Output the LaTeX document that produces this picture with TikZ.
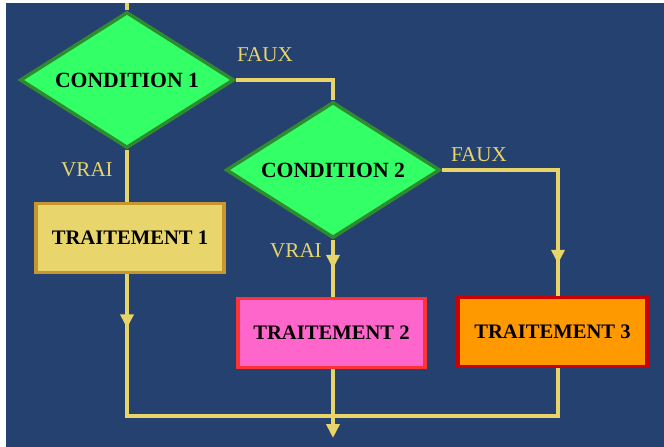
\documentclass[tikz,border=0pt]{standalone}
\usepackage{fontspec}
\setmainfont{Liberation Serif}
\usetikzlibrary{shapes.geometric,arrows.meta,decorations.markings}
\definecolor{flownavy}{RGB}{37,65,112}
\definecolor{flowline}{RGB}{232,213,106}
\definecolor{condfill}{RGB}{51,255,102}
\definecolor{conddraw}{RGB}{46,140,46}
\definecolor{traitgold}{RGB}{232,214,108}
\definecolor{traitgolddraw}{RGB}{200,150,46}
\definecolor{traitpink}{RGB}{255,102,204}
\definecolor{traitpinkdraw}{RGB}{255,51,51}
\definecolor{traitorange}{RGB}{255,153,0}
\definecolor{traitorangedraw}{RGB}{204,0,0}

\begin{document}
\begin{tikzpicture}[x=0.03cm, y=-0.03cm,
  every node/.style={font=\fontsize{18}{21}\selectfont},
  cond/.style={diamond, aspect=1.57, minimum width=6.42cm, minimum height=4.08cm,
    inner sep=0pt, fill=condfill, draw=conddraw, line width=3pt,
    font=\fontsize{18.5}{21}\selectfont\bfseries},
  traitbox/.style={rectangle, minimum width=5.64cm, minimum height=2.07cm,
    inner sep=0pt, line width=3pt, font=\fontsize{17.6}{21}\selectfont\bfseries},
  flow/.style={draw=flowline, color=flowline, line width=3pt},
  midarrow/.style={postaction={decorate}, decoration={markings,
    mark=at position #1 with {\arrow{Triangle[width=0.39cm,length=0.42cm]}}}},
  answer/.style={text=flowline, inner sep=0pt}]

% Background
\fill[white] (0,0) rectangle (664,447);
\fill[flownavy] (6,3) rectangle (664,447);
\useasboundingbox (0,0) rectangle (664,447);

% Conditions
\node[cond] (d1) at (127,80) {CONDITION 1};
\node[cond] (d2) at (333,170) {CONDITION 2};

% Traitements
\node[traitbox, fill=traitgold, draw=traitgolddraw] (t1) at (130,238) {TRAITEMENT 1};
\node[traitbox, fill=traitpink, draw=traitpinkdraw, minimum width=5.61cm] (t2) at (331.5,333) {TRAITEMENT 2};
\node[traitbox, fill=traitorange, draw=traitorangedraw, minimum width=5.67cm] (t3) at (552.5,332) {TRAITEMENT 3};

% Labels
\node[answer] (faux1) at (265,55) {FAUX};
\node[answer] (vrai1) at (87,170) {VRAI};
\node[answer] (faux2) at (479,155) {FAUX};
\node[answer] (vrai2) at (296,251) {VRAI};

% Points
\coordinate (entry) at (127,3);
\coordinate (f1) at (333,80);
\coordinate (f2) at (558,170);
\coordinate (j) at (333,416);
\coordinate (exit) at (333,438);

% Arrows
\draw[flow] (entry) -- (d1.north);
\draw[flow] (d1.south) -- (d1.south |- t1.north);
\draw[flow, line join=miter] (d1.east) -- (f1) -- (d2.north);
\draw[flow, midarrow=0.87cm] (d2.south) -- (d2.south |- t2.north);
\draw[flow, line join=miter, midarrow=6.3cm] (d2.east) -- (f2) -- (f2 |- t3.north);
\draw[flow, line join=miter, midarrow=1.62cm] (d1.south |- t1.south) -- (d1.south |- j) -- (f2 |- j) -- (f2 |- t3.south);
\draw[flow, -{Triangle[width=0.39cm,length=0.42cm]}] (d2.south |- t2.south) -- (exit);
\end{tikzpicture}
\end{document}
